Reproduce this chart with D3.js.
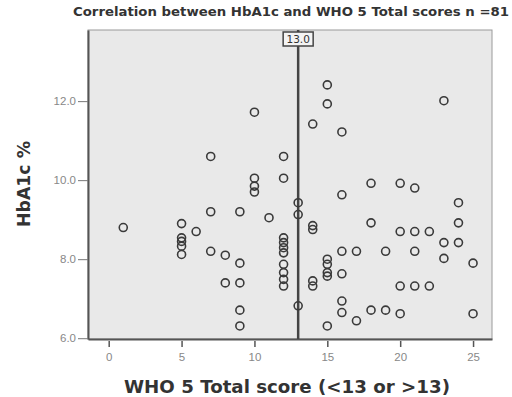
<!DOCTYPE html>
<html>
<head>
<meta charset="utf-8">
<script src="https://cdn.jsdelivr.net/npm/d3@7"></script>
<style>
  body { margin: 0; background: #fff; }
  svg { display: block; font-family: "DejaVu Sans", sans-serif; }
</style>
</head>
<body>
<div id="chart"></div>
<script>
const title = "Correlation between HbA1c and WHO 5 Total scores n =81";
const xLabel = "WHO 5 Total score (<13 or >13)";
const yLabel = "HbA1c %";
const xTicks = [0, 5, 10, 15, 20, 25];
const yTicks = [6, 8, 10, 12];
const cutoff = 13;

// WHO 5 total score per patient
const who5 = [
  1, 5, 5, 5, 5, 5, 6, 7, 7, 7, 8, 8, 9, 9, 9, 9, 9,
  10, 10, 10, 10, 11, 12, 12, 12, 12, 12, 12, 12, 12, 12, 12,
  13, 13, 13, 14, 14, 14, 14, 14, 15, 15, 15, 15, 15, 15, 15,
  16, 16, 16, 16, 16, 16, 17, 17, 18, 18, 18, 19, 19,
  20, 20, 20, 20, 21, 21, 21, 21, 22, 22, 23, 23, 23,
  24, 24, 24, 25, 25
];
// HbA1c % per patient (same order)
const hba1c = [
  8.8, 8.9, 8.54, 8.45, 8.33, 8.12, 8.7, 10.6, 9.2, 8.2, 8.1, 7.4, 9.2, 7.9, 7.4, 6.71, 6.31,
  11.72, 10.05, 9.85, 9.7, 9.05, 10.6, 10.05, 8.54, 8.42, 8.29, 8.16, 7.87, 7.66, 7.49, 7.32,
  9.43, 9.13, 6.82, 11.42, 8.85, 8.75, 7.45, 7.32, 12.41, 11.93, 8.0, 7.87, 7.66, 7.57, 6.31,
  11.22, 9.63, 7.63, 6.94, 6.65, 8.2, 8.2, 6.44, 9.92, 8.92, 6.71, 8.2, 6.71,
  9.92, 8.7, 7.32, 6.62, 9.8, 8.7, 8.2, 7.32, 8.7, 7.32, 12.01, 8.42, 8.02,
  9.43, 8.92, 8.42, 7.9, 6.62
];

const W = 512, H = 397;
const margin = { top: 30, right: 20, bottom: 58, left: 88 };
const innerW = W - margin.left - margin.right;
const innerH = H - margin.top - margin.bottom;

const svg = d3.select("#chart").append("svg")
  .attr("width", W)
  .attr("height", H);

const x = d3.scaleLinear([-1.42, 26.3], [0, innerW]);
const y = d3.scaleLinear([5.98, 13.8], [innerH, 0]);

const g = svg.append("g")
  .attr("transform", `translate(${margin.left},${margin.top})`);

// plot background
g.append("rect")
  .attr("width", innerW)
  .attr("height", innerH)
  .attr("fill", "#e9e9e9")
  .attr("stroke", "#9a9a9a")
  .attr("stroke-width", 1);

// x axis
const xAxis = g.append("g")
  .attr("transform", `translate(0,${innerH})`)
  .call(d3.axisBottom(x).tickValues(xTicks).tickSize(8).tickPadding(6).tickSizeOuter(0));
xAxis.select(".domain").attr("stroke", "#555").attr("stroke-width", 2);
xAxis.selectAll(".tick line").attr("stroke", "#555").attr("stroke-width", 1.5)
  .attr("y1", 2);
xAxis.selectAll(".tick text").attr("fill", "#888").attr("font-size", 11.5);

// y axis
const yAxis = g.append("g")
  .call(d3.axisLeft(y).tickValues(yTicks).tickFormat(d3.format(".1f")).tickSize(10).tickPadding(2).tickSizeOuter(0));
yAxis.select(".domain").attr("stroke", "#555").attr("stroke-width", 2);
yAxis.selectAll(".tick line").attr("stroke", "#777").attr("stroke-width", 1);
yAxis.selectAll(".tick text").attr("fill", "#888").attr("font-size", 11.5);

// cutoff line
g.append("line")
  .attr("x1", x(cutoff)).attr("x2", x(cutoff))
  .attr("y1", 0).attr("y2", innerH)
  .attr("stroke", "#444")
  .attr("stroke-width", 2.5);

// points
g.selectAll(".dot")
  .data(who5.map((d, i) => ({ score: d, hba1c: hba1c[i] })))
  .join("circle")
  .attr("class", "dot")
  .attr("cx", d => x(d.score))
  .attr("cy", d => y(d.hba1c))
  .attr("r", 4)
  .attr("fill", "none")
  .attr("stroke", "#3a3a3a")
  .attr("stroke-width", 1.6);

// cutoff label box
const lab = g.append("g")
  .attr("transform", `translate(${x(cutoff)},${9})`);
lab.append("rect")
  .attr("x", -15).attr("y", -7)
  .attr("width", 30).attr("height", 14)
  .attr("fill", "#f4f4f4")
  .attr("stroke", "#444")
  .attr("stroke-width", 1.5);
lab.append("text")
  .attr("text-anchor", "middle")
  .attr("dy", "0.35em")
  .attr("font-size", 10.5)
  .attr("fill", "#333")
  .text(cutoff.toFixed(1));

// title
svg.append("text")
  .attr("x", 73)
  .attr("y", 16)
  .attr("font-size", 12)
  .attr("font-weight", "bold")
  .attr("fill", "#333")
  .attr("textLength", 436)
  .attr("lengthAdjust", "spacingAndGlyphs")
  .text(title);

// axis labels
svg.append("text")
  .attr("x", 287)
  .attr("y", 393)
  .attr("text-anchor", "middle")
  .attr("font-size", 17)
  .attr("font-weight", "bold")
  .attr("fill", "#333")
  .attr("textLength", 326)
  .attr("lengthAdjust", "spacingAndGlyphs")
  .text(xLabel);

svg.append("text")
  .attr("transform", `translate(30,${184}) rotate(-90)`)
  .attr("text-anchor", "middle")
  .attr("font-size", 17)
  .attr("font-weight", "bold")
  .attr("fill", "#333")
  .attr("textLength", 86)
  .attr("lengthAdjust", "spacingAndGlyphs")
  .text(yLabel);
</script>
</body>
</html>
